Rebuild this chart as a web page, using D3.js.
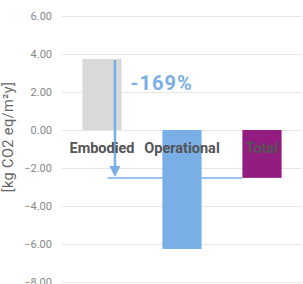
<!DOCTYPE html>
<html>
<head>
<meta charset="utf-8">
<script src="https://cdn.jsdelivr.net/npm/d3@7.9.0/dist/d3.min.js"></script>
<style>
  body { margin: 0; background: #fff; }
  text { font-family: Roboto, "Noto Sans", sans-serif; }
</style>
</head>
<body>
<svg id="chart" width="303" height="284"></svg>
<script>
const categories = ["Embodied", "Operational", "Total"];
const values = [3.74, -6.26, -2.52];
const colors = ["#d9d9d9", "#7aaee6", "#921c7f"];
const yTicks = [6, 4, 2, 0, -2, -4, -6, -8];
const changeLabel = "-169%";

const margin = { top: 16, right: 1, bottom: 2, left: 62 };
const width = 303 - margin.left - margin.right;
const height = 284 - margin.top - margin.bottom;

const svg = d3.select("#chart")
  .append("g")
  .attr("transform", `translate(${margin.left},${margin.top})`);

const x = d3.scaleBand().domain(categories).range([0, 240]).paddingInner(0.51).paddingOuter(0.255);
const y = d3.scaleLinear().domain([6, -8]).range([0, 266]);

// gridlines + tick labels
const yAxis = d3.axisLeft(y).tickValues(yTicks).tickSize(-width).tickFormat(d3.format(".2f"));
svg.append("g")
  .call(yAxis)
  .call(g => g.select(".domain").remove())
  .call(g => g.selectAll(".tick line").attr("stroke", "#e6e6e6"))
  .call(g => g.selectAll(".tick text")
    .attr("x", -10)
    .attr("fill", "#888")
    .attr("font-size", 11));

// y title
svg.append("text")
  .attr("transform", "rotate(-90)")
  .attr("x", -(y(0) + 7))
  .attr("y", -49)
  .attr("text-anchor", "middle")
  .attr("fill", "#666")
  .attr("font-size", 14.5)
  .attr("letter-spacing", 0.4)
  .text("[kg CO2 eq/m²y]");

// bars
svg.selectAll("rect.bar")
  .data(categories)
  .join("rect")
  .attr("class", "bar")
  .attr("x", d => x(d))
  .attr("width", x.bandwidth())
  .attr("y", (d, i) => y(Math.max(0, values[i])))
  .attr("height", (d, i) => Math.abs(y(values[i]) - y(0)))
  .attr("fill", (d, i) => colors[i]);

// arrow from embodied top down to total level
const ax = x("Embodied") + x.bandwidth() * 0.83;
const totalY = y(values[2]);
svg.append("line")
  .attr("x1", x("Embodied") + x.bandwidth() * 0.64)
  .attr("x2", x("Total"))
  .attr("y1", totalY)
  .attr("y2", totalY)
  .attr("stroke", colors[1])
  .attr("stroke-width", 1.5);
svg.append("line")
  .attr("x1", ax)
  .attr("x2", ax)
  .attr("y1", y(values[0]) + 1)
  .attr("y2", totalY - 8)
  .attr("stroke", colors[1])
  .attr("stroke-width", 2.5);
svg.append("path")
  .attr("d", `M${ax - 5.5},${totalY - 12}L${ax + 5.5},${totalY - 12}L${ax},${totalY - 1}Z`)
  .attr("fill", colors[1]);

// percent label
svg.append("text")
  .attr("x", x("Embodied") + x.bandwidth() + 9)
  .attr("y", y(2) - 2)
  .attr("fill", colors[1])
  .attr("font-size", 20)
  .attr("font-weight", "bold")
  .attr("letter-spacing", 1)
  .text(changeLabel);

// category labels
svg.selectAll("text.cat")
  .data(categories)
  .join("text")
  .attr("class", "cat")
  .attr("x", d => x(d) + x.bandwidth() / 2)
  .attr("y", y(0) + 23)
  .attr("text-anchor", "middle")
  .attr("fill", "#555")
  .attr("font-size", 14.5)
  .attr("font-weight", "bold")
  .text(d => d);
</script>
</body>
</html>
